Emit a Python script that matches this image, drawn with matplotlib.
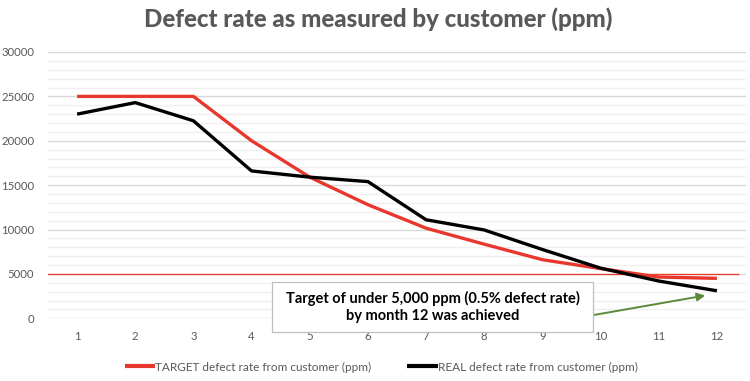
import matplotlib
matplotlib.use("Agg")
import matplotlib.pyplot as plt
from matplotlib.ticker import MultipleLocator

months = [1, 2, 3, 4, 5, 6, 7, 8, 9, 10, 11, 12]
target = [25000, 25000, 25000, 20000, 15900, 12800, 10150, 8350, 6600, 5600, 4650, 4500]
real = [23000, 24300, 22250, 16600, 15900, 15400, 11100, 9950, 7750, 5650, 4200, 3100]
target_level = 5000
title = "Defect rate as measured by customer (ppm)"
series_names = ["TARGET defect rate from customer (ppm)", "REAL defect rate from customer (ppm)"]
note = "Target of under 5,000 ppm (0.5% defect rate)\nby month 12 was achieved"

plt.rcParams["font.family"] = ["Lato", "DejaVu Sans"]

W, H = 750, 381
fig = plt.figure(figsize=(W / 100, H / 100), dpi=100)
ax = fig.add_axes([48 / W, 1 - 318.3 / H, (746 - 48) / W, (318.3 - 52) / H])

gray = "#595959"
red = "#e8382e"

ax.set_xlim(0.5, 12.5)
ax.set_ylim(0, 30000)
ax.yaxis.set_major_locator(MultipleLocator(5000))
ax.yaxis.set_minor_locator(MultipleLocator(1000))
ax.set_xticks(months)
ax.grid(which="major", axis="y", color="#d9d9d9", lw=1.0)
ax.grid(which="minor", axis="y", color="#efefef", lw=0.9)
ax.set_axisbelow(True)
for s in ax.spines.values():
    s.set_visible(False)
ax.tick_params(axis="both", which="both", length=0, colors=gray, labelsize=8.2)
ax.tick_params(axis="x", pad=9)
ax.tick_params(axis="y", pad=10)

ax.plot([0.5, 12.36], [target_level, target_level], color=red, lw=0.9, zorder=2)
l1, = ax.plot(months, target, color=red, lw=2.4, solid_capstyle="butt", zorder=3)
l2, = ax.plot(months, real, color="black", lw=2.4, solid_capstyle="butt", zorder=4)

fig.text(378 / W, 1 - 19 / H, title, ha="center", va="center", fontsize=17.3,
         fontweight="black", color=gray)

# annotation box
bx0, bx1, by0, by1 = 272, 593, 282, 332
fig.patches.append(plt.Rectangle((bx0 / W, 1 - by1 / H), (bx1 - bx0) / W, (by1 - by0) / H,
                                 transform=fig.transFigure, facecolor="white",
                                 edgecolor="#bfbfbf", lw=0.9, zorder=5))
fig.text((bx0 + bx1) / 2 / W, 1 - (by0 + by1) / 2 / H, note, ha="center", va="center",
         fontsize=10.5, fontweight="bold", color="black", linespacing=1.35, zorder=6)
ax.annotate("", xy=(708 / W, 1 - 295 / H), xytext=(571 / W, 1 - 319 / H),
            xycoords="figure fraction", textcoords="figure fraction",
            arrowprops=dict(arrowstyle="-|>", color="#5a8a3a", lw=1.4, mutation_scale=12),
            zorder=7)

leg = fig.legend([l1, l2], series_names, loc="center", bbox_to_anchor=(381 / W, 1 - 367 / H),
                 ncol=2, frameon=False, fontsize=8.5, handlelength=2.6, handletextpad=0.0,
                 columnspacing=3.0, labelcolor=gray)
for h in leg.legend_handles:
    h.set_linewidth(3)

fig.savefig("out.png", dpi=100)
